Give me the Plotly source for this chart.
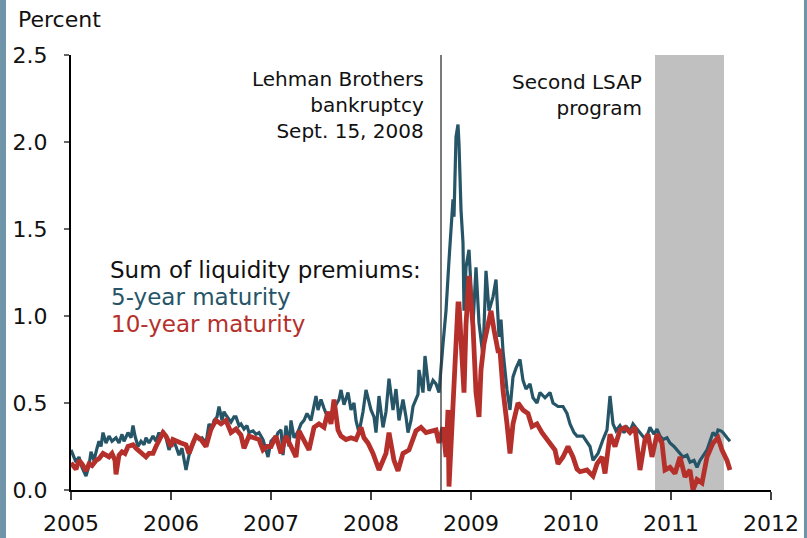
import plotly.graph_objects as go

# ---- data ----
blue_x = [2005.00, 2005.02, 2005.05, 2005.08, 2005.11, 2005.15, 2005.18, 2005.20, 2005.23, 2005.26,
          2005.28, 2005.30, 2005.32, 2005.35, 2005.38, 2005.41, 2005.45, 2005.48, 2005.51, 2005.53,
          2005.57, 2005.60, 2005.62, 2005.64, 2005.67, 2005.70, 2005.73, 2005.75, 2005.78, 2005.82,
          2005.85, 2005.88, 2005.90, 2005.92, 2005.95, 2005.98, 2006.02, 2006.05, 2006.08, 2006.11,
          2006.15, 2006.18, 2006.21, 2006.25, 2006.28, 2006.31, 2006.35, 2006.38, 2006.41, 2006.43,
          2006.46, 2006.48, 2006.51, 2006.53, 2006.55, 2006.58, 2006.60, 2006.63, 2006.65, 2006.68,
          2006.70, 2006.73, 2006.76, 2006.78, 2006.82, 2006.85, 2006.88, 2006.92, 2006.95, 2006.97,
          2007.00, 2007.03, 2007.05, 2007.07, 2007.10, 2007.12, 2007.15, 2007.18, 2007.20, 2007.23,
          2007.27, 2007.30, 2007.33, 2007.36, 2007.40, 2007.43, 2007.45, 2007.47, 2007.50, 2007.53,
          2007.55, 2007.58, 2007.60, 2007.63, 2007.65, 2007.68, 2007.70, 2007.73, 2007.77, 2007.80,
          2007.83, 2007.85, 2007.88, 2007.92, 2007.95, 2008.00, 2008.03, 2008.05, 2008.08, 2008.12,
          2008.15, 2008.18, 2008.22, 2008.25, 2008.28, 2008.32, 2008.35, 2008.37, 2008.40, 2008.42,
          2008.47, 2008.48, 2008.52, 2008.54, 2008.58, 2008.62, 2008.65, 2008.68, 2008.72, 2008.75,
          2008.78, 2008.82, 2008.83, 2008.85, 2008.87, 2008.88, 2008.90, 2008.92, 2008.93, 2008.95,
          2008.98, 2009.02, 2009.05, 2009.08, 2009.12, 2009.15, 2009.18, 2009.22, 2009.25, 2009.28,
          2009.30, 2009.32, 2009.36, 2009.39, 2009.42, 2009.45, 2009.49, 2009.52, 2009.55, 2009.59,
          2009.62, 2009.66, 2009.69, 2009.74, 2009.79, 2009.82, 2009.87, 2009.92, 2009.96, 2009.99,
          2010.03, 2010.06, 2010.12, 2010.19, 2010.22, 2010.27, 2010.32, 2010.36, 2010.39, 2010.42,
          2010.45, 2010.49, 2010.53, 2010.56, 2010.59, 2010.62, 2010.66, 2010.69, 2010.73, 2010.76,
          2010.79, 2010.83, 2010.86, 2010.89, 2010.92, 2010.96, 2010.99, 2011.03, 2011.06, 2011.09,
          2011.12, 2011.16, 2011.19, 2011.23, 2011.26, 2011.29, 2011.33, 2011.36, 2011.39, 2011.42,
          2011.45, 2011.47, 2011.50, 2011.52, 2011.56, 2011.59]
blue_y = [0.23, 0.20, 0.16, 0.19, 0.13, 0.08, 0.14, 0.22, 0.17, 0.24,
          0.28, 0.25, 0.33, 0.27, 0.31, 0.28, 0.30, 0.27, 0.32, 0.28,
          0.33, 0.30, 0.37, 0.31, 0.25, 0.28, 0.26, 0.30, 0.27, 0.31,
          0.28, 0.33, 0.30, 0.34, 0.30, 0.23, 0.29, 0.25, 0.20, 0.24,
          0.115, 0.20, 0.25, 0.31, 0.29, 0.30, 0.27, 0.38, 0.35, 0.40,
          0.42, 0.48, 0.40, 0.45, 0.43, 0.41, 0.39, 0.42, 0.42, 0.37,
          0.38, 0.35, 0.37, 0.33, 0.34, 0.32, 0.33, 0.29, 0.22, 0.19,
          0.28, 0.30, 0.30, 0.33, 0.345, 0.20, 0.37, 0.25, 0.40, 0.30,
          0.335, 0.38, 0.40, 0.44, 0.40, 0.48, 0.54, 0.46, 0.52, 0.47,
          0.44, 0.43, 0.42, 0.47, 0.49, 0.52, 0.575, 0.49, 0.56, 0.46,
          0.50, 0.40, 0.33, 0.45, 0.575, 0.46, 0.42, 0.33, 0.54, 0.36,
          0.45, 0.64, 0.46, 0.58, 0.40, 0.52, 0.42, 0.33, 0.40, 0.48,
          0.55, 0.69, 0.56, 0.77, 0.57, 0.63, 0.61, 0.56, 0.84, 1.03,
          1.32, 1.67, 1.57, 2.03, 2.10, 1.99, 1.61, 1.42, 1.03, 1.28,
          1.38, 0.95, 1.28, 0.96, 0.77, 1.26, 1.03, 1.11, 1.21, 0.88,
          0.98, 0.80, 0.575, 0.46, 0.65, 0.70, 0.75, 0.63, 0.58, 0.61,
          0.53, 0.50, 0.56, 0.53, 0.56, 0.50, 0.48, 0.48, 0.44, 0.38,
          0.33, 0.31, 0.31, 0.25, 0.17, 0.21, 0.29, 0.345, 0.54, 0.38,
          0.34, 0.37, 0.33, 0.36, 0.34, 0.38, 0.35, 0.33, 0.30, 0.31,
          0.36, 0.32, 0.35, 0.31, 0.29, 0.30, 0.27, 0.25, 0.23, 0.21,
          0.19, 0.20, 0.16, 0.17, 0.13, 0.17, 0.20, 0.23, 0.28, 0.33,
          0.31, 0.345, 0.34, 0.33, 0.30, 0.28]

red_x = [2005.00, 2005.03, 2005.05, 2005.08, 2005.11, 2005.15, 2005.18, 2005.21, 2005.25, 2005.28,
         2005.32, 2005.35, 2005.38, 2005.41, 2005.44, 2005.45, 2005.47, 2005.48, 2005.51, 2005.54,
         2005.57, 2005.62, 2005.65, 2005.67, 2005.70, 2005.73, 2005.75, 2005.78, 2005.82, 2005.85,
         2005.88, 2005.92, 2005.95, 2005.97, 2006.00, 2006.02, 2006.05, 2006.10, 2006.15, 2006.18,
         2006.22, 2006.25, 2006.30, 2006.35, 2006.40, 2006.45, 2006.50, 2006.55, 2006.60, 2006.65,
         2006.70, 2006.73, 2006.78, 2006.83, 2006.88, 2006.92, 2006.96, 2007.00, 2007.05, 2007.10,
         2007.15, 2007.20, 2007.25, 2007.28, 2007.33, 2007.38, 2007.43, 2007.48, 2007.53, 2007.57,
         2007.60, 2007.63, 2007.67, 2007.70, 2007.75, 2007.80, 2007.85, 2007.90, 2007.93, 2007.97,
         2008.02, 2008.08, 2008.15, 2008.18, 2008.23, 2008.27, 2008.32, 2008.38, 2008.45, 2008.50,
         2008.55, 2008.62, 2008.65, 2008.68, 2008.72, 2008.75, 2008.77, 2008.78, 2008.80, 2008.83,
         2008.85, 2008.87, 2008.88, 2008.90, 2008.92, 2008.93, 2008.95, 2008.98, 2009.02, 2009.05,
         2009.08, 2009.10, 2009.13, 2009.17, 2009.20, 2009.23, 2009.27, 2009.29, 2009.32, 2009.36,
         2009.39, 2009.42, 2009.47, 2009.52, 2009.57, 2009.61, 2009.66, 2009.71, 2009.76, 2009.79,
         2009.84, 2009.87, 2009.92, 2009.97, 2010.02, 2010.06, 2010.09, 2010.16, 2010.22, 2010.26,
         2010.31, 2010.34, 2010.39, 2010.44, 2010.49, 2010.54, 2010.59, 2010.64, 2010.69, 2010.74,
         2010.77, 2010.81, 2010.86, 2010.91, 2010.94, 2010.99, 2011.04, 2011.09, 2011.14, 2011.19,
         2011.22, 2011.26, 2011.31, 2011.36, 2011.42, 2011.47, 2011.51, 2011.56, 2011.59]
red_y = [0.155, 0.13, 0.12, 0.17, 0.15, 0.11, 0.15, 0.14, 0.17, 0.18,
         0.21, 0.20, 0.19, 0.21, 0.17, 0.09, 0.17, 0.20, 0.22, 0.21,
         0.25, 0.26, 0.24, 0.23, 0.21, 0.20, 0.19, 0.21, 0.21, 0.25,
         0.29, 0.33, 0.31, 0.28, 0.25, 0.29, 0.28, 0.27, 0.26, 0.21,
         0.27, 0.31, 0.29, 0.25, 0.35, 0.40, 0.38, 0.40, 0.33, 0.35,
         0.315, 0.24, 0.31, 0.30, 0.29, 0.23, 0.25, 0.25, 0.31, 0.21,
         0.31, 0.25, 0.19, 0.34, 0.29, 0.23, 0.36, 0.38, 0.36, 0.45,
         0.38, 0.52, 0.345, 0.31, 0.29, 0.30, 0.29, 0.36, 0.30, 0.27,
         0.21, 0.115, 0.21, 0.33, 0.17, 0.11, 0.21, 0.23, 0.34, 0.36,
         0.33, 0.34, 0.345, 0.27, 0.36, 0.19, 0.46, 0.02, 0.27, 0.59,
         0.84, 1.07, 1.07, 0.84, 0.61, 0.56, 0.95, 1.23, 0.94, 0.56,
         0.42, 0.69, 0.84, 0.94, 1.03, 0.92, 0.80, 0.80, 0.575, 0.38,
         0.21, 0.38, 0.50, 0.46, 0.44, 0.365, 0.38, 0.33, 0.29, 0.27,
         0.23, 0.15, 0.19, 0.25, 0.19, 0.12, 0.105, 0.115, 0.08, 0.15,
         0.19, 0.095, 0.32, 0.25, 0.345, 0.36, 0.33, 0.36, 0.115, 0.29,
         0.32, 0.19, 0.32, 0.27, 0.115, 0.13, 0.095, 0.19, 0.075, 0.115,
         0.0, 0.06, 0.04, 0.19, 0.27, 0.30, 0.23, 0.17, 0.115]

x_ticks = [2005, 2006, 2007, 2008, 2009, 2010, 2011, 2012]
y_ticks = [0.0, 0.5, 1.0, 1.5, 2.0, 2.5]
lehman_date = 2008.70
lsap_start, lsap_end = 2010.84, 2011.53

BLUE = "#265568"
RED = "#b5302b"
FONT = "DejaVu Sans"

fig = go.Figure()
fig.add_trace(go.Scatter(x=blue_x, y=blue_y, mode="lines",
                         line=dict(color=BLUE, width=3.2), showlegend=False))
fig.add_trace(go.Scatter(x=red_x, y=red_y, mode="lines",
                         line=dict(color=RED, width=4.8), showlegend=False))

shapes = [
    dict(type="rect", xref="x", yref="y", x0=lsap_start, x1=lsap_end, y0=0, y1=2.5,
         fillcolor="#c0c0c0", line=dict(width=0), layer="below"),
    dict(type="line", xref="x", yref="y", x0=lehman_date, x1=lehman_date, y0=0, y1=2.5,
         line=dict(color="#333333", width=1.3), layer="above"),
    dict(type="rect", xref="paper", yref="paper", x0=-0.1014, x1=-0.0929, y0=-0.12, y1=1.14,
         fillcolor="#6f93a8", line=dict(width=0)),
    dict(type="rect", xref="paper", yref="paper", x0=1.0471, x1=1.06, y0=-0.12, y1=1.14,
         fillcolor="#6f93a8", line=dict(width=0)),
]

annotations = [
    dict(text="Percent", xref="paper", yref="paper", x=-0.0779, y=1.0805,
         xanchor="left", yanchor="middle", showarrow=False, font=dict(size=22, color="#111")),
    dict(text="Lehman Brothers<br>bankruptcy<br>Sept. 15, 2008", xref="x", yref="y",
         x=2008.55, y=2.215, xanchor="right", yanchor="middle", align="right", showarrow=False,
         font=dict(size=20, color="#111")),
    dict(text="Second LSAP<br>program", xref="x", yref="y",
         x=2010.73, y=2.27, xanchor="right", yanchor="middle", align="right", showarrow=False,
         font=dict(size=20, color="#111")),
    dict(text="Sum of liquidity premiums:", xref="x", yref="y", x=2005.37, y=1.264,
         xanchor="left", yanchor="middle", showarrow=False, font=dict(size=23, color="#111")),
    dict(text="5-year maturity", xref="x", yref="y", x=2005.38, y=1.109,
         xanchor="left", yanchor="middle", showarrow=False, font=dict(size=23, color=BLUE)),
    dict(text="10-year maturity", xref="x", yref="y", x=2005.38, y=0.954,
         xanchor="left", yanchor="middle", showarrow=False, font=dict(size=23, color=RED)),
]

fig.update_layout(
    width=807, height=538,
    margin=dict(l=71, r=36, t=55, b=48),
    paper_bgcolor="white", plot_bgcolor="white",
    font=dict(family=FONT, size=22, color="#111"),
    shapes=shapes, annotations=annotations,
    xaxis=dict(range=[2005, 2012], tickvals=x_ticks, ticktext=[str(v) for v in x_ticks],
               showgrid=False, zeroline=False, showline=True, linecolor="black", linewidth=2,
               ticks="outside", ticklen=8, tickcolor="#444", tickwidth=1.5, automargin=False,
               ticklabelstandoff=5, tickfont=dict(size=22, family=FONT)),
    yaxis=dict(range=[0, 2.5], tickvals=y_ticks, ticktext=[f"{v:.1f}" for v in y_ticks],
               showgrid=False, zeroline=False, showline=True, linecolor="black", linewidth=2,
               ticks="outside", ticklen=5, tickcolor="#666", tickwidth=1.5, automargin=False,
               ticklabelstandoff=12, tickfont=dict(size=22, family=FONT)),
)

fig.write_html("out.html", config={"displayModeBar": False},
               post_script="document.body.style.margin='0';document.body.style.overflow='hidden';")
